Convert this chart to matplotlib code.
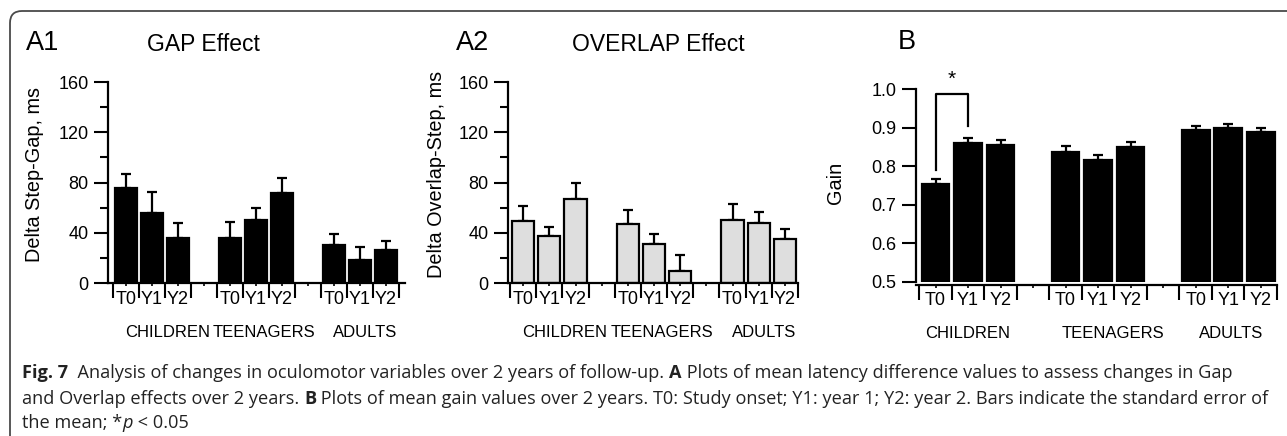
import numpy as np
import matplotlib; matplotlib.use("Agg"); import matplotlib.pyplot as plt
from matplotlib import font_manager
from matplotlib.patches import FancyBboxPatch
import matplotlib.transforms as mtrans

# ---- data ----
periods = ["T0", "Y1", "Y2"]
groups = ["CHILDREN", "TEENAGERS", "ADULTS"]
gap_mean = [75.4, 56.1, 36.2, 35.7, 50.0, 71.4, 30.2, 18.3, 25.9]
gap_sem = [11.6, 16.1, 11.4, 13.2, 9.8, 11.9, 9.0, 10.5, 7.7]
overlap_mean = [49.5, 37.6, 66.7, 46.6, 31.2, 9.8, 50.5, 47.9, 34.7]
overlap_sem = [11.9, 6.6, 13.2, 11.3, 8.2, 12.2, 12.7, 8.7, 8.4]
gain_mean = [0.753, 0.860, 0.854, 0.837, 0.815, 0.849, 0.893, 0.898, 0.888]
gain_sem = [0.014, 0.013, 0.014, 0.016, 0.013, 0.014, 0.012, 0.011, 0.012]
latency_ticks = [0, 40, 80, 120, 160]
gain_ticks = [0.5, 0.6, 0.7, 0.8, 0.9, 1.0]

W, H = 1287, 436
plt.rcParams["font.family"] = ["Liberation Sans", "DejaVu Sans"]

def has_font(name):
    try:
        font_manager.findfont(name, fallback_to_default=False); return True
    except Exception:
        return False
CAP_FONT = next((f for f in ["Liberation Sans Narrow", "Open Sans", "Noto Sans"] if has_font(f)), "DejaVu Sans")

X = np.array([0, 1, 2, 4, 5, 6, 8, 9, 10])
EDGES = [-0.5, 0.5, 1.5, 2.5, 3.5, 4.5, 5.5, 6.5, 7.5, 8.5, 9.5, 10.5]

fig = plt.figure(figsize=(W/100, H/100), dpi=100)

def px(x0, y0, x1, y1):
    # pixel box (top-left origin) -> figure fraction rect
    return [x0/W, 1-y1/H, (x1-x0)/W, (y1-y0)/H]

def panel(rect, mean, sem, color, ylim, yticks, ylabels, minor, ylabel_xy, ylabel, group_x, group_y, xlim, offset=0):
    ax = fig.add_axes(rect)
    ax.bar(X, mean, width=0.85, color=color, edgecolor="black", lw=1.6, zorder=2)
    ax.errorbar(X, mean, yerr=[np.zeros(len(sem)), sem], fmt="none", ecolor="black",
                elinewidth=1.6, capsize=3.3, capthick=1.6, zorder=1)
    ax.set_xlim(*xlim); ax.set_ylim(*ylim)
    for s in ["top", "right"]: ax.spines[s].set_visible(False)
    for s in ["left", "bottom"]: ax.spines[s].set_linewidth(1.6)
    if offset: ax.spines["bottom"].set_position(("outward", offset))
    ax.set_yticks(yticks)
    ax.set_yticklabels(ylabels, fontsize=13)
    if minor: ax.set_yticks(minor, minor=True)
    ax.tick_params(axis="y", which="major", length=10, width=1.5, pad=4)
    ax.tick_params(axis="y", which="minor", length=6, width=1.5)
    ax.set_xticks(EDGES)
    ax.set_xticklabels([])
    ax.set_xticks(np.arange(0, 11), minor=True)
    ax.set_xticklabels(["T0", "Y1", "Y2", "", "T0", "Y1", "Y2", "", "T0", "Y1", "Y2"], minor=True, fontsize=13)
    ax.tick_params(axis="x", which="major", length=11, width=1.5)
    ax.tick_params(axis="x", which="minor", length=2, width=1.2, pad=3.5)
    tr = mtrans.blended_transform_factory(ax.transData, ax.transAxes)
    for gx, g in zip(group_x, groups):
        ax.text(gx, group_y, g, transform=tr, ha="center", va="center", fontsize=12)
    fig.text(ylabel_xy[0]/W, 1-ylabel_xy[1]/H, ylabel, rotation=90, ha="center", va="center", fontsize=14.3)
    return ax

a1 = panel(px(108, 82, 405, 283), gap_mean, gap_sem, "black", (0, 160), latency_ticks,
           [str(v) for v in latency_ticks], [20, 60, 100, 140], (35, 175), "Delta Step-Gap, ms",
           [1.6, 5.3, 9.2], -0.245, (-0.69, 10.73))
a2 = panel(px(508, 82, 798, 283), overlap_mean, overlap_sem, "#dedede", (0, 160), latency_ticks,
           [str(v) for v in latency_ticks], [20, 60, 100, 140], (437, 174), "Delta Overlap-Step, ms",
           [1.6, 5.3, 9.2], -0.245, (-0.58, 10.5))
b = panel(px(916, 89, 1277, 282), gain_mean, gain_sem, "black", (0.5, 1.0), gain_ticks,
          [f"{v:.1f}" for v in gain_ticks], None, (835, 183), "Gain",
          [1.0, 5.45, 9.1], -0.265, (-0.6, 10.5), offset=2)

# significance bracket children T0 vs Y1
b.plot([0, 0, 1, 1], [0.79, 0.988, 0.988, 0.903], color="black", lw=1.6, clip_on=False)
b.text(0.5, 1.0, "*", ha="center", va="bottom", fontsize=15)

# panel letters / titles
for x, y, s, fs, ha in [(26, 43, "A1", 19.5, "left"), (203, 44, "GAP Effect", 16.5, "center"),
                        (473, 43, "A2", 19.5, "center"), (658, 44, "OVERLAP Effect", 16.5, "center"),
                        (907, 42, "B", 19.5, "center")]:
    fig.text(x/W, 1-y/H, s, ha=ha, va="center", fontsize=fs)

# rounded frame
fig.patches.append(FancyBboxPatch((10, -40), 1320, 465, boxstyle="round,pad=0,rounding_size=12",
                                  transform=None, fill=False, ec="#4a4a4a", lw=1.3))

# caption with bold/italic runs
lines = [
    [("Fig. 7", {"weight": "bold"}), ("  Analysis of changes in oculomotor variables over 2 years of follow-up. ", {}),
     ("A", {"weight": "bold"}), (" Plots of mean latency difference values to assess changes in Gap", {})],
    [("and Overlap effects over 2 years. ", {}), ("B", {"weight": "bold"}),
     (" Plots of mean gain values over 2 years. T0: Study onset; Y1: year 1; Y2: year 2. Bars indicate the standard error of", {})],
    [("the mean; *", {}), ("p", {"style": "italic"}), (" < 0.05", {})],
]
r = fig.canvas.get_renderer()

def draw_line(parts, y, size, draw=True):
    x = 22
    made = []
    for txt, kw in parts:
        t = fig.text(x/W, 1-y/H, txt, ha="left", va="center", fontsize=size, family=[CAP_FONT, "DejaVu Sans"],
                     color="#222222", **kw)
        x += t.get_window_extent(renderer=r).width
        made.append(t)
    if not draw:
        for t in made: t.remove()
    return x - 22

cap_size = min(10 * 1245 / draw_line(ln, 373, 10, draw=False) for ln in lines[:2])
for parts, y in zip(lines, [373, 399, 423]):
    draw_line(parts, y, cap_size)

fig.savefig("out.png", dpi=100)
